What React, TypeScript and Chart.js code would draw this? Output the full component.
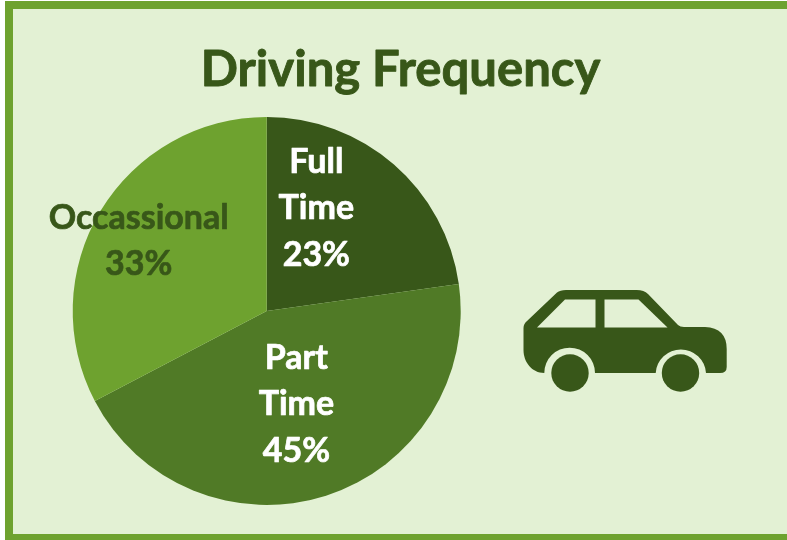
import React, { useEffect, useRef } from "react";
import { Chart, registerables } from "chart.js";

Chart.register(...registerables);

const chartTitle = "Driving Frequency";
const categories = ["Full Time", "Part Time", "Occassional"];
const percentages = [23, 45, 33];
const labelLines = [["Full", "Time", "23%"], ["Part", "Time", "45%"], ["Occassional", "33%"]];

const DARK = "#385719";
const MID = "#507A26";
const LIGHT = "#6EA22F";
const PALE = "#E3F1D4";
const sliceColors = [DARK, MID, LIGHT];
const labelColors = ["#FFFFFF", "#FFFFFF", DARK];
const labelShift = [[-14, -29.5], [0, 1], [-45, -19.5]];

const drawHeavy = (ctx: any, text: string, x: number, y: number, color: string, weight: number) => {
  ctx.fillStyle = color;
  ctx.strokeStyle = color;
  ctx.lineWidth = weight;
  ctx.lineJoin = "round";
  ctx.fillText(text, x, y);
  ctx.strokeText(text, x, y);
};

const textPlugin = {
  id: "sliceText",
  afterDraw(chart: any) {
    const { ctx } = chart;
    ctx.save();
    ctx.textAlign = "center";
    ctx.textBaseline = "middle";
    ctx.font = "bold 49px Lato";
    drawHeavy(ctx, chartTitle, 400.5, 70, DARK, 0.9);
    ctx.font = "bold 34px Lato";
    chart.getDatasetMeta(0).data.forEach((arc: any, i: number) => {
      const c = arc.getCenterPoint();
      const lines = labelLines[i];
      lines.forEach((line: string, j: number) => {
        const y = c.y + labelShift[i][1] + (j - (lines.length - 1) / 2) * 46.5;
        drawHeavy(ctx, line, c.x + labelShift[i][0], y, labelColors[i], 0.7);
      });
    });
    ctx.restore();
  },
};

const carBody =
  "M544.3 373 C532 373 523.5 362 523.5 350 L523.5 328 Q523.5 324 527 321 L557 292.5 Q560 290 566 290 L636.7 290 Q644 290 648 294 L678 325 Q680 327 684 327 L705 327 Q726.7 328 726.7 349 L726.7 367 Q726.7 373 720 373 L706 373 A25.2 25.2 0 0 0 655.7 373 L595 373 A25.3 25.3 0 0 0 544.3 373 Z";
const carWindowA = "M537 327.5 L565 299.5 L595.5 299.5 L595.5 327.5 Z";
const carWindowB = "M604.5 299.5 L638.5 299.5 L667.5 327.5 L604.5 327.5 Z";

export default function App() {
  const ref = useRef<HTMLCanvasElement | null>(null);

  useEffect(() => {
    const chart = new Chart(ref.current as HTMLCanvasElement, {
      type: "pie",
      data: {
        labels: categories,
        datasets: [{ data: percentages, backgroundColor: sliceColors, borderWidth: 0 }],
      },
      options: {
        responsive: false,
        animation: false,
        layout: { padding: { left: 72.7, right: 326.3, top: 117, bottom: 35 } },
        plugins: { legend: { display: false }, tooltip: { enabled: false }, title: { display: false } },
      },
      plugins: [textPlugin],
    } as any);
    return () => chart.destroy();
  }, []);

  return (
    <div style={{ position: "fixed", left: 0, top: 0, width: 787, height: 540, overflow: "hidden", background: "#FFFFFF" }}>
      <div
        style={{
          position: "absolute",
          left: 5,
          top: 1,
          width: 790,
          height: 539,
          boxSizing: "border-box",
          background: PALE,
          border: `8px solid ${LIGHT}`,
          borderBottomWidth: 6,
        }}
      />
      <canvas ref={ref} width={787} height={540} style={{ position: "absolute", left: 0, top: 0, width: 787, height: 540 }} />
      <svg width={787} height={540} viewBox="0 0 787 540" style={{ position: "absolute", left: 0, top: 0 }}>
        <path d={carBody} fill={DARK} />
        <path d={carWindowA} fill={PALE} />
        <path d={carWindowB} fill={PALE} />
        <circle cx={570} cy={373} r={18.7} fill={DARK} />
        <circle cx={680.5} cy={373} r={18.7} fill={DARK} />
      </svg>
    </div>
  );
}
